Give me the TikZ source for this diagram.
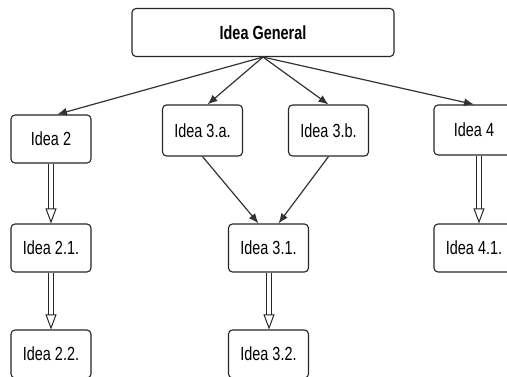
\documentclass[tikz,border=0pt]{standalone}
\usepackage{fontspec}
\setmainfont{Liberation Sans}[FakeStretch=0.76]
\usetikzlibrary{arrows.meta}

\begin{document}
\begin{tikzpicture}[x=1pt,y=1pt,
	idea/.style = {draw=black!85, line width=1.1pt, rounded corners=4pt, minimum width=80pt, minimum height=48pt, font=\fontsize{19}{21}\selectfont},
	link/.style = {draw=black!80, line width=1.2pt, -{Latex[length=10pt,width=8pt]}},
	dbl/.style = {draw=black!85, line width=1pt, double, double distance=4pt, -{Triangle[open,length=15pt,width=11pt,line width=1pt]}},
	node distance=106pt]
	\useasboundingbox (0,0) rectangle (507,376);
	\node[idea, minimum width=262pt, font=\bfseries\fontsize{19}{21}\selectfont] (gen) at (263,343.5) {Idea General};
	\node[idea] (i2) at (51,237) {Idea 2};
	\node[idea, minimum height=51pt] (i3a) at (202.5,245.5) {Idea 3.a.};
	\node[idea, minimum height=51pt] (i3b) at (328.5,245.5) {Idea 3.b.};
	\node[idea, minimum height=50pt] (i4) at (474,246) {Idea 4};
	\node[idea] (i21) at (51,128) {Idea 2.1.};
	\node[idea] (i31) at (268.5,128) {Idea 3.1.};
	\node[idea] (i41) at (474,128) {Idea 4.1.};
	\node[idea] (i22) [below of=i21] {Idea 2.2.};
	\node[idea] (i32) [below of=i31] {Idea 3.2.};
	\draw[link] (gen.south) -- ([xshift=6pt]i2.north);
	\draw[link] (gen.south) -- ([xshift=5pt]i3a.north);
	\draw[link] (gen.south) -- (i3b.north);
	\draw[link] (gen.south) -- (i4.north);
	\draw[link] (i3a.south) -- ([xshift=-10pt]i31.north);
	\draw[link] (i3b.south) -- ([xshift=10pt]i31.north);
	\draw[dbl] (i2) -- (i21);
	\draw[dbl] (i21) -- (i22);
	\draw[dbl] ([xshift=0.5pt]i31.south) -- ([xshift=0.5pt]i32.north);
	\draw[dbl] ([xshift=5pt]i4.south) -- ([xshift=5pt]i41.north);
\end{tikzpicture}
\end{document}
